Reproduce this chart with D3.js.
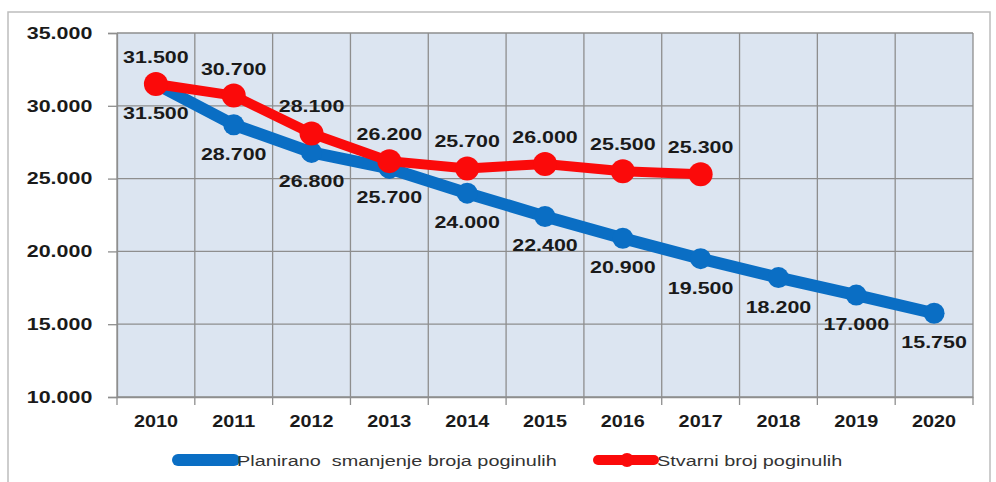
<!DOCTYPE html>
<html>
<head>
<meta charset="utf-8">
<script src="https://cdn.jsdelivr.net/npm/d3@7"></script>
<style>
  html, body { margin: 0; padding: 0; background: #fff; }
  svg { display: block; }
  text { font-family: "Liberation Sans", Arial, sans-serif; }
</style>
</head>
<body>
<svg id="chart" width="996" height="482"></svg>
<script>
// Godine
const years = ["2010","2011","2012","2013","2014","2015","2016","2017","2018","2019","2020"];
// Planirano smanjenje broja poginulih
const planned = [31500, 28700, 26800, 25700, 24000, 22400, 20900, 19500, 18200, 17000, 15750];
// Stvarni broj poginulih (2010–2017)
const actual = [31500, 30700, 28100, 26200, 25700, 26000, 25500, 25300];
const yTicks = [10000, 15000, 20000, 25000, 30000, 35000];
const seriesNames = ["Planirano  smanjenje broja poginulih", "Stvarni broj poginulih"];

// thousands with a dot separator: 31500 -> "31.500"
const fmtThousands = v => {
  const s = String(Math.round(v));
  return s.slice(0, s.length - 3) + "." + s.slice(-3);
};

// the typography is set wide: glyphs are stretched horizontally
const SX = 1.3;

const svg = d3.select("#chart");
const plot = { left: 117, right: 973, top: 33, bottom: 397 };

// outer frame
svg.append("rect")
  .attr("x", 8).attr("y", 12).attr("width", 982).attr("height", 475)
  .attr("fill", "none").attr("stroke", "#bdbdbd").attr("stroke-width", 1.5);

const x = d3.scaleBand().domain(years).range([plot.left, plot.right]).padding(0);
const y = d3.scaleLinear().domain([10000, 35000]).range([plot.bottom, plot.top]);
const cx = d => x(d) + x.bandwidth() / 2;

// plot background
svg.append("rect")
  .attr("x", plot.left).attr("y", plot.top)
  .attr("width", plot.right - plot.left).attr("height", plot.bottom - plot.top)
  .attr("fill", "#dce5f1");

const gridColor = "#8e8e8e";

// horizontal gridlines
svg.append("g").selectAll("line").data(yTicks).join("line")
  .attr("x1", plot.left).attr("x2", plot.right)
  .attr("y1", d => y(d)).attr("y2", d => y(d))
  .attr("stroke", gridColor).attr("stroke-width", 1.3);

// vertical gridlines at category boundaries
const bounds = years.map(d => x(d)).concat([plot.right]);
svg.append("g").selectAll("line").data(bounds).join("line")
  .attr("x1", d => d).attr("x2", d => d)
  .attr("y1", plot.top).attr("y2", plot.bottom)
  .attr("stroke", gridColor).attr("stroke-width", 1.3);

// y axis
const yAxis = svg.append("g")
  .attr("transform", `translate(${plot.left},0)`)
  .call(d3.axisLeft(y).tickValues(yTicks).tickSize(9).tickPadding(10).tickFormat(fmtThousands));
yAxis.select(".domain").attr("stroke", gridColor).attr("stroke-width", 1.3);
yAxis.selectAll(".tick line").attr("stroke", gridColor).attr("stroke-width", 1.3);
yAxis.selectAll(".tick text")
  .attr("font-size", 16.5).attr("font-weight", "bold").attr("fill", "#1a1a1a")
  .attr("font-family", "'Liberation Sans', Arial, sans-serif")
  .attr("transform", `scale(${SX},1)`);

// x axis, ticks at category boundaries
const xAxis = svg.append("g")
  .attr("transform", `translate(0,${plot.bottom})`)
  .call(d3.axisBottom(x).tickSize(0).tickPadding(18));
xAxis.select(".domain").attr("stroke", gridColor).attr("stroke-width", 1.3);
xAxis.selectAll(".tick text")
  .attr("font-size", 16.5).attr("font-weight", "bold").attr("fill", "#1a1a1a")
  .attr("font-family", "'Liberation Sans', Arial, sans-serif")
  .attr("transform", `scale(1.2,1)`);
xAxis.append("g").selectAll("line").data(bounds).join("line")
  .attr("x1", d => d).attr("x2", d => d).attr("y1", 0).attr("y2", 8)
  .attr("stroke", gridColor).attr("stroke-width", 1.3);

const line = d3.line().x((d, i) => cx(years[i])).y(d => y(d));

const blue = "#0a6ec4";
const red = "#fb0a0a";

// planned series
svg.append("path").datum(planned)
  .attr("d", line).attr("fill", "none")
  .attr("stroke", blue).attr("stroke-width", 12).attr("stroke-linejoin", "round");
svg.append("g").selectAll("circle").data(planned).join("circle")
  .attr("cx", (d, i) => cx(years[i])).attr("cy", d => y(d)).attr("r", 10.5)
  .attr("fill", blue);

// actual series
svg.append("path").datum(actual)
  .attr("d", line).attr("fill", "none")
  .attr("stroke", red).attr("stroke-width", 10).attr("stroke-linejoin", "round");
svg.append("g").selectAll("circle").data(actual).join("circle")
  .attr("cx", (d, i) => cx(years[i])).attr("cy", d => y(d)).attr("r", 12)
  .attr("fill", red);

// value labels
const labelStyle = sel => sel
  .attr("text-anchor", "middle").attr("font-size", 16.5).attr("font-weight", "bold")
  .attr("fill", "#1a1a1a");

svg.append("g").selectAll("text").data(planned).join("text")
  .attr("transform", (d, i) => `translate(${cx(years[i])},${y(d) + 35}) scale(${SX},1)`)
  .text(fmtThousands).call(labelStyle);

svg.append("g").selectAll("text").data(actual).join("text")
  .attr("transform", (d, i) => `translate(${cx(years[i])},${y(d) - 21}) scale(${SX},1)`)
  .text(fmtThousands).call(labelStyle);

// legend
const legend = [
  { name: seriesNames[0], color: blue, x0: 178, w: 12, r: 6 },
  { name: seriesNames[1], color: red, x0: 598, w: 10, r: 7 }
];
const lg = svg.append("g").selectAll("g").data(legend).join("g")
  .attr("transform", d => `translate(${d.x0},460)`);
lg.append("line").attr("x1", 0).attr("x2", 56).attr("y1", 0).attr("y2", 0)
  .attr("stroke", d => d.color).attr("stroke-width", d => d.w).attr("stroke-linecap", "round");
lg.append("circle").attr("cx", 29).attr("cy", 0).attr("r", d => d.r).attr("fill", d => d.color);
lg.append("text")
  .attr("transform", `translate(59,6) scale(1.28,1)`)
  .attr("font-size", 15.5).attr("fill", "#333")
  .attr("xml:space", "preserve").style("white-space", "pre")
  .text(d => d.name);
</script>
</body>
</html>
